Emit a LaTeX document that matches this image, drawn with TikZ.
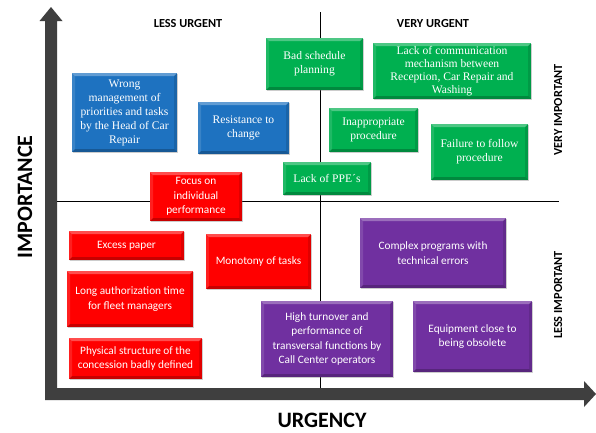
\documentclass[tikz,border=0pt]{standalone}
\usepackage{fontspec}
\setmainfont{Liberation Serif}
\newfontfamily\calibri{Carlito}
\usetikzlibrary{shadows}

\definecolor{axisgray}{HTML}{3F3F3F}
\definecolor{cblue}{HTML}{1E72C0}
\definecolor{cgreen}{HTML}{00B050}
\definecolor{cred}{HTML}{FF0000}
\definecolor{cpurple}{HTML}{7030A0}

\tikzset{
  bevel/.style={path picture={
    \fill[white,opacity=.30] (path picture bounding box.north west) -- (path picture bounding box.north east)
      -- ([xshift=-3pt,yshift=-3pt]path picture bounding box.north east) -- ([xshift=3pt,yshift=-3pt]path picture bounding box.north west) -- cycle;
    \fill[white,opacity=.12] (path picture bounding box.north west) -- (path picture bounding box.south west)
      -- ([xshift=3pt,yshift=3pt]path picture bounding box.south west) -- ([xshift=3pt,yshift=-3pt]path picture bounding box.north west) -- cycle;
    \fill[black,opacity=.12] (path picture bounding box.north east) -- (path picture bounding box.south east)
      -- ([xshift=-3pt,yshift=3pt]path picture bounding box.south east) -- ([xshift=-3pt,yshift=-3pt]path picture bounding box.north east) -- cycle;
    \fill[black,opacity=.22] (path picture bounding box.south west) -- (path picture bounding box.south east)
      -- ([xshift=-3pt,yshift=3pt]path picture bounding box.south east) -- ([xshift=3pt,yshift=3pt]path picture bounding box.south west) -- cycle;
  }},
  card/.style={rectangle, inner sep=2pt, align=center, text=white, bevel,
    drop shadow={shadow xshift=1.2pt, shadow yshift=-1.2pt, opacity=.35}},
  serifcard/.style={card, font=\fontsize{11.6}{14}\selectfont},
  sanscard/.style={card, font=\calibri\fontsize{11.3}{14.5}\selectfont},
  bluecard/.style={serifcard, fill=cblue},
  greencard/.style={serifcard, fill=cgreen},
  redcard/.style={sanscard, fill=cred},
  purplecard/.style={sanscard, fill=cpurple},
  quadlabel/.style={font=\calibri\bfseries\fontsize{12.3}{13}\selectfont, text=black},
  axislabel/.style={font=\calibri\bfseries\fontsize{22}{24}\selectfont, text=black},
  divider/.style={draw=black, line width=0.9pt},
}

\begin{document}
\begin{tikzpicture}[x=1pt,y=-1pt]
\useasboundingbox[fill=white] (0,0) rectangle (596,432);

% axes (one L-shaped block arrow pair)
\fill[axisgray] (45,400) -- (45,21) -- (39.5,21) -- (51,7) -- (62.5,21) -- (57,21)
  -- (57,388) -- (584,388) -- (584,381) -- (596,394) -- (584,407) -- (584,400) -- cycle;

% quadrant dividers
\coordinate (vtop) at (320,12);
\coordinate (vbot) at (320,388);
\coordinate (hleft) at (57,201);
\coordinate (hright) at (559,201);
\draw[divider] (vtop) -- (vbot);
\draw[divider] (hleft) -- (hright);

% quadrant and axis labels
\node[quadlabel] (lu) at (188,24) {LESS URGENT};
\node[quadlabel] (vu) at (433,24) {VERY URGENT};
\node[quadlabel, rotate=90] (vi) at (558,110) {VERY IMPORTANT};
\node[quadlabel, rotate=90] (li) at (558,295) {LESS IMPORTANT};
\node[axislabel, rotate=90] (imp) at (25,197) {IMPORTANCE};
\node[axislabel, inner sep=0pt] (urg) at (322,420) {URGENCY};

% blue
\node[bluecard, minimum width=105pt, minimum height=79pt] (b1) at (124.5,112.5)
  {Wrong\\management of\\priorities and tasks\\by the Head of Car\\Repair};
\node[bluecard, minimum width=91pt, minimum height=52pt] (b2) at (243.5,128)
  {Resistance to\\change};

% green
\node[greencard, minimum width=97pt, minimum height=52pt] (g1) at (314.5,64)
  {Bad schedule\\planning};
\node[greencard, minimum width=158pt, minimum height=56pt, font=\fontsize{11.6}{13.2}\selectfont] (g2) at (452,71)
  {Lack of communication\\mechanism between\\Reception, Car Repair and\\Washing};
\node[greencard, minimum width=89pt, minimum height=44pt] (g3) at (373.5,130)
  {Inappropriate\\procedure};
\node[greencard, minimum width=97pt, minimum height=56pt] (g4) at (479.5,152)
  {Failure to follow\\procedure};
\node[greencard, minimum width=88pt, minimum height=33pt] (g5) at (327,178.5)
  {Lack of PPE´s};

% red
\node[redcard, minimum width=92pt, minimum height=49pt] (r1) at (196,196.5)
  {Focus on\\individual\\performance};
\node[redcard, minimum width=115pt, minimum height=29pt] (r2) at (126.5,245.5)
  {Excess paper};
\node[redcard, minimum width=126pt, minimum height=56pt] (r3) at (130,299)
  {Long authorization time\\for fleet managers};
\node[redcard, minimum width=133pt, minimum height=41pt] (r4) at (135.5,358.5)
  {Physical structure of the\\concession badly defined};
\node[redcard, minimum width=105pt, minimum height=55pt] (r5) at (258.5,261.5)
  {Monotony of tasks};

% purple
\node[purplecard, minimum width=132pt, minimum height=76pt] (p1) at (327,339)
  {High turnover and\\performance of\\transversal functions by\\Call Center operators};
\node[purplecard, minimum width=146pt, minimum height=70pt] (p2) at (433,253)
  {Complex programs with\\technical errors};
\node[purplecard, minimum width=119pt, minimum height=71pt] (p3) at (472.5,336.5)
  {Equipment close to\\being obsolete};
\end{tikzpicture}
\end{document}
